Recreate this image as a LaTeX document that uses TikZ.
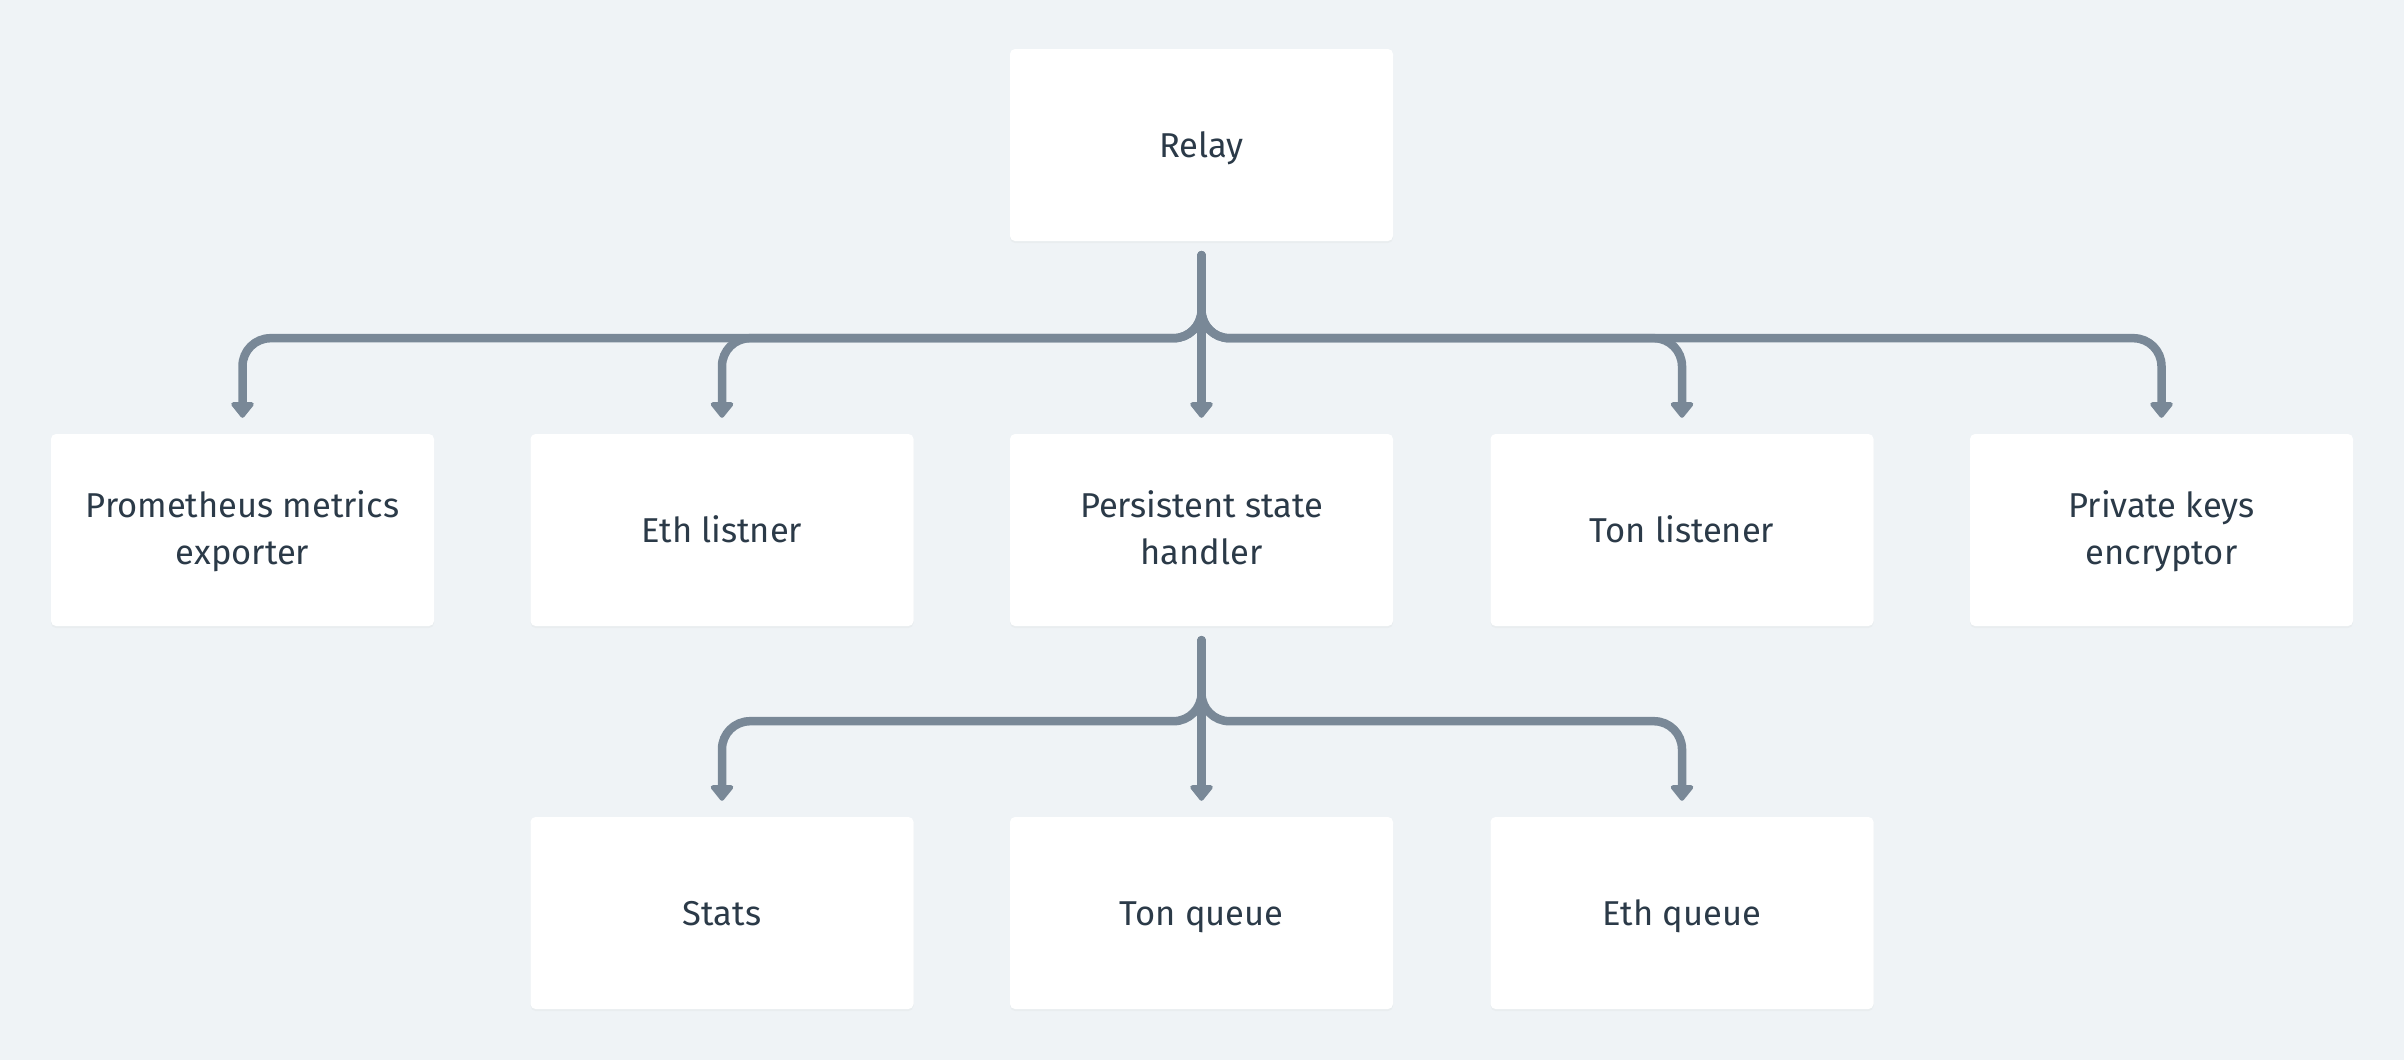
\documentclass[tikz,border=0pt]{standalone}
\usepackage{fontspec}
\setmainfont{Fira Sans}
\usetikzlibrary{arrows.meta,shadows,calc}
\definecolor{bg}{HTML}{EFF3F6}
\definecolor{linec}{HTML}{798897}
\definecolor{txt}{HTML}{2B3A48}
\newcommand\mystrut{\rule[-11.5pt]{0pt}{47pt}}
\newcommand\mytallstrut{\rule[-11.5pt]{0pt}{92pt}}
\tikzset{
  box/.style={fill=white, rounded corners=5pt, minimum width=383pt, minimum height=192pt,
    inner sep=0pt, align=center, text=txt, font=\fontsize{34.5}{47}\selectfont,
    execute at begin node=\mystrut, execute at end node=\mystrut,
    drop shadow={opacity=0.05, shadow xshift=0pt, shadow yshift=-2pt}},
  twoline/.style={execute at begin node=\mytallstrut},
  conn/.style={draw=linec, line width=8.5pt, line cap=round, rounded corners=28pt,
    -{Triangle[width=26pt,length=17pt,round]}}
}
\begin{document}
\begin{tikzpicture}[x=1pt,y=-1pt]
\fill[bg] (0,0) rectangle (2404,1060);
\useasboundingbox (0,0) rectangle (2404,1060);
\node[box] (relay) at (1201.5,145) {Relay};
\node[box,twoline] (prom) at (242.5,530) {Prometheus metrics\\exporter};
\node[box] (eth) at (722,530) {Eth listner};
\node[box,twoline] (psh) at (1201.5,530) {Persistent state\\handler};
\node[box] (ton) at (1682,530) {Ton listener};
\node[box,twoline] (pk) at (2161.5,530) {Private keys\\encryptor};
\node[box] (stats) at (722,913) {Stats};
\node[box] (tq) at (1201.5,913) {Ton queue};
\node[box] (eq) at (1682,913) {Eth queue};
\coordinate (t1) at ([yshift=-14pt]relay.south);
\coordinate (j1) at ([yshift=-97pt]relay.south);
\coordinate (t2) at ([yshift=-14pt]psh.south);
\coordinate (j2) at ([yshift=-95pt]psh.south);
\draw[conn] (t1) -- (j1) -| ([yshift=16pt]prom.north);
\draw[conn] (t1) -- (j1) -| ([yshift=16pt]eth.north);
\draw[conn] (t1) -- ([yshift=16pt]psh.north);
\draw[conn] (t1) -- (j1) -| ([yshift=16pt]ton.north);
\draw[conn] (t1) -- (j1) -| ([yshift=16pt]pk.north);
\draw[conn] (t2) -- (j2) -| ([yshift=16pt]stats.north);
\draw[conn] (t2) -- ([yshift=16pt]tq.north);
\draw[conn] (t2) -- (j2) -| ([yshift=16pt]eq.north);
\end{tikzpicture}
\end{document}
